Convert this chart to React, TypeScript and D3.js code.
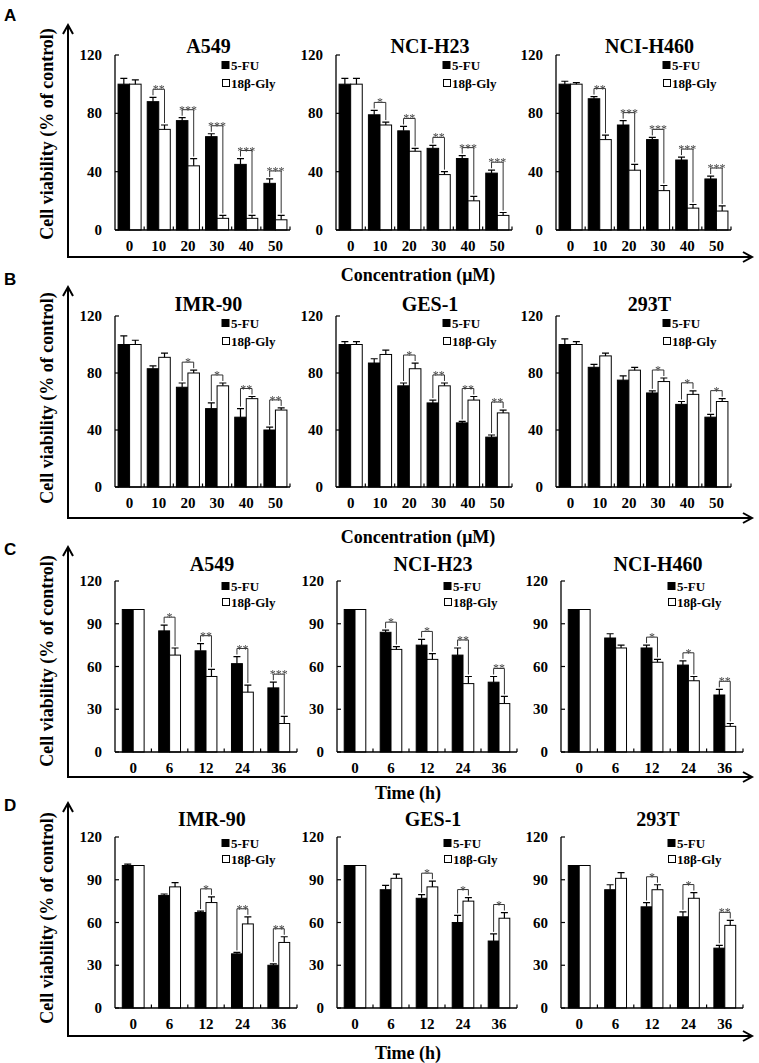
import React from "react";
import * as d3 from "d3";

const concCategories = ["0", "10", "20", "30", "40", "50"];
const timeCategories = ["0", "6", "12", "24", "36"];
const concTicks = [0, 40, 80, 120];
const timeTicks = [0, 30, 60, 90, 120];
const seriesNames = ["5-FU", "18β-Gly"];
const panelLetters = ["A", "B", "C", "D"];
const xAxisTitles = ["Concentration (μM)", "Concentration (μM)", "Time (h)", "Time (h)"];
const yAxisTitle = "Cell viability (% of control)";
const cancerLines = ["A549", "NCI-H23", "NCI-H460"];
const normalLines = ["IMR-90", "GES-1", "293T"];

// Row A (concentration, cancer lines)
const a_A549_fu = [100, 88, 75, 64, 45, 32];
const a_A549_fuErr = [4, 3, 2, 2, 4, 3];
const a_A549_gly = [100, 69, 44, 8, 8, 7];
const a_A549_glyErr = [3, 3, 5, 2, 2, 3];
const a_A549_sig = ["", "**", "***", "***", "***", "***"];

const a_H23_fu = [100, 79, 68, 56, 49, 39];
const a_H23_fuErr = [4, 3, 3, 2, 2, 2];
const a_H23_gly = [100, 72, 54, 38, 20, 10];
const a_H23_glyErr = [4, 2, 2, 2, 3, 2];
const a_H23_sig = ["", "*", "**", "**", "***", "***"];

const a_H460_fu = [100, 90, 72, 62, 48, 35];
const a_H460_fuErr = [2, 1.5, 3, 1.5, 2, 2];
const a_H460_gly = [100, 62, 41, 27, 15, 13];
const a_H460_glyErr = [1, 3, 4, 3.5, 2.5, 3.5];
const a_H460_sig = ["", "**", "***", "***", "***", "***"];

// Row B (concentration, normal lines)
const b_IMR90_fu = [100, 83, 70, 55, 49, 40];
const b_IMR90_fuErr = [6, 2, 3, 4, 6, 2];
const b_IMR90_gly = [100, 91, 80, 71, 62, 54];
const b_IMR90_glyErr = [3, 3, 2, 2, 1.5, 1.5];
const b_IMR90_sig = ["", "", "*", "*", "**", "**"];

const b_GES1_fu = [100, 87, 71, 59, 45, 35];
const b_GES1_fuErr = [2, 3, 2, 2, 1, 1.5];
const b_GES1_gly = [100, 93, 83, 71, 61, 52];
const b_GES1_glyErr = [2, 3, 4, 2, 2.5, 2];
const b_GES1_sig = ["", "", "*", "**", "**", "**"];

const b_293T_fu = [100, 84, 75, 66, 58, 49];
const b_293T_fuErr = [4, 2, 3, 1.5, 2, 2];
const b_293T_gly = [100, 92, 82, 74, 65, 60];
const b_293T_glyErr = [2, 2, 2, 2.5, 2.5, 2];
const b_293T_sig = ["", "", "", "*", "*", "*"];

// Row C (time, cancer lines)
const c_A549_fu = [100, 85, 71, 62, 45];
const c_A549_fuErr = [0, 4, 5, 5, 4];
const c_A549_gly = [100, 68, 53, 42, 20];
const c_A549_glyErr = [0, 5, 5, 5, 5];
const c_A549_sig = ["", "*", "**", "**", "***"];

const c_H23_fu = [100, 84, 75, 68, 49];
const c_H23_fuErr = [0, 1.5, 4, 5, 4];
const c_H23_gly = [100, 72, 65, 48, 34];
const c_H23_glyErr = [0, 2, 4, 5, 5];
const c_H23_sig = ["", "*", "*", "**", "**"];

const c_H460_fu = [100, 80, 73, 61, 40];
const c_H460_fuErr = [0, 3, 2, 3, 4];
const c_H460_gly = [100, 73, 63, 50, 18];
const c_H460_glyErr = [0, 2, 2, 3, 2];
const c_H460_sig = ["", "", "*", "*", "**"];

// Row D (time, normal lines)
const d_IMR90_fu = [100, 79, 67, 38, 30];
const d_IMR90_fuErr = [1, 1, 1, 1, 1];
const d_IMR90_gly = [100, 85, 74, 59, 46];
const d_IMR90_glyErr = [0, 3, 4, 5, 4];
const d_IMR90_sig = ["", "", "*", "**", "**"];

const d_GES1_fu = [100, 83, 77, 60, 47];
const d_GES1_fuErr = [0, 3, 2.5, 5, 5];
const d_GES1_gly = [100, 91, 85, 75, 63];
const d_GES1_glyErr = [0, 3, 4, 2.5, 4];
const d_GES1_sig = ["", "", "*", "*", "*"];

const d_293T_fu = [100, 83, 71, 64, 42];
const d_293T_fuErr = [0, 3.5, 3, 3.5, 2];
const d_293T_gly = [100, 91, 83, 77, 58];
const d_293T_glyErr = [0, 4, 3.5, 4, 3.5];
const d_293T_sig = ["", "", "*", "*", "**"];

const rowData = [
  [
    [a_A549_fu, a_A549_fuErr, a_A549_gly, a_A549_glyErr, a_A549_sig],
    [a_H23_fu, a_H23_fuErr, a_H23_gly, a_H23_glyErr, a_H23_sig],
    [a_H460_fu, a_H460_fuErr, a_H460_gly, a_H460_glyErr, a_H460_sig],
  ],
  [
    [b_IMR90_fu, b_IMR90_fuErr, b_IMR90_gly, b_IMR90_glyErr, b_IMR90_sig],
    [b_GES1_fu, b_GES1_fuErr, b_GES1_gly, b_GES1_glyErr, b_GES1_sig],
    [b_293T_fu, b_293T_fuErr, b_293T_gly, b_293T_glyErr, b_293T_sig],
  ],
  [
    [c_A549_fu, c_A549_fuErr, c_A549_gly, c_A549_glyErr, c_A549_sig],
    [c_H23_fu, c_H23_fuErr, c_H23_gly, c_H23_glyErr, c_H23_sig],
    [c_H460_fu, c_H460_fuErr, c_H460_gly, c_H460_glyErr, c_H460_sig],
  ],
  [
    [d_IMR90_fu, d_IMR90_fuErr, d_IMR90_gly, d_IMR90_glyErr, d_IMR90_sig],
    [d_GES1_fu, d_GES1_fuErr, d_GES1_gly, d_GES1_glyErr, d_GES1_sig],
    [d_293T_fu, d_293T_fuErr, d_293T_gly, d_293T_glyErr, d_293T_sig],
  ],
];

const SERIF = "'Liberation Serif', 'Times New Roman', Times, serif";
const SANS = "'Liberation Sans', Arial, Helvetica, sans-serif";

const colsAB = [[115, 290], [336, 512], [556, 731]];
const colsCD = [[115, 297], [337, 517], [561, 743]];

const layout = [
  { y120: 55, y0: 230, lineY: 257, xTitleY: 275, titleY: 46, letterY: 15, arrowTop: 25, leg: [65, 83], ylabY: 134, cols: colsAB, pad: 0.21 },
  { y120: 316, y0: 487, lineY: 518, xTitleY: 537, titleY: 304, letterY: 279, arrowTop: 287, leg: [323, 341], ylabY: 398, cols: colsAB, pad: 0.21 },
  { y120: 581, y0: 752, lineY: 777, xTitleY: 793, titleY: 564, letterY: 549, arrowTop: 547, leg: [586, 602], ylabY: 661, cols: colsCD, pad: 0.4 },
  { y120: 837, y0: 1008, lineY: 1036, xTitleY: 1053, titleY: 819, letterY: 805, arrowTop: 803, leg: [843, 859], ylabY: 918, cols: colsCD, pad: 0.4 },
];

function Subplot(props: any) {
  const { x0, x1, L, categories, ticks, data, title } = props;
  const [fu, fuErr, gly, glyErr, sig] = data;
  const x = d3.scaleBand().domain(categories).range([x0, x1]).paddingInner(L.pad).paddingOuter(L.pad / 2);
  const inner = d3.scaleBand().domain(["fu", "gly"]).range([0, x.bandwidth()]);
  const y = d3.scaleLinear().domain([0, 120]).range([L.y0, L.y120]);
  const step = x.step();
  const bw = inner.bandwidth();
  const stroke = "#000";
  const bracketColor = "#333";
  return (
    <g>
      <text x={(x0 + x1) / 2 + 6} y={L.titleY} textAnchor="middle" dominantBaseline="central"
        fontFamily={SERIF} fontWeight="bold" fontSize={20}>{title}</text>
      <rect x={x0 + 107} y={L.leg[0] - 3.5} width={7} height={7} fill="#000" stroke="#000" strokeWidth={1} />
      <text x={x0 + 116} y={L.leg[0]} dominantBaseline="central" fontFamily={SERIF} fontWeight="bold" fontSize={13}>{seriesNames[0]}</text>
      <rect x={x0 + 107.5} y={L.leg[1] - 3.5} width={7} height={7} fill="#fff" stroke="#000" strokeWidth={1} />
      <text x={x0 + 116} y={L.leg[1]} dominantBaseline="central" fontFamily={SERIF} fontWeight="bold" fontSize={13}>{seriesNames[1]}</text>
      {categories.map((c: string, i: number) => {
        const bx = (x(c) as number) + (inner("fu") as number);
        const wx = (x(c) as number) + (inner("gly") as number);
        return (
          <g key={"b" + i}>
            <rect x={bx} y={y(fu[i])} width={bw} height={L.y0 - y(fu[i])} fill="#000" stroke={stroke} strokeWidth={1} />
            <rect x={wx} y={y(gly[i])} width={bw} height={L.y0 - y(gly[i])} fill="#fff" stroke={stroke} strokeWidth={1} />
          </g>
        );
      })}
      {categories.map((c: string, i: number) => {
        const bc = (x(c) as number) + (inner("fu") as number) + bw / 2;
        const wc = (x(c) as number) + (inner("gly") as number) + bw / 2;
        const items: any[] = [];
        if (fuErr[i] > 0) {
          const t = y(fu[i] + fuErr[i]);
          items.push(<path key="e1" d={`M${bc},${y(fu[i])}V${t}M${bc - 3.5},${t}H${bc + 3.5}`} stroke="#000" strokeWidth={1.2} fill="none" />);
        }
        if (glyErr[i] > 0) {
          const t = y(gly[i] + glyErr[i]);
          items.push(<path key="e2" d={`M${wc},${y(gly[i])}V${t}M${wc - 3.5},${t}H${wc + 3.5}`} stroke="#000" strokeWidth={1.2} fill="none" />);
        }
        return <g key={"e" + i}>{items}</g>;
      })}
      <g filter="url(#gray)">
        {categories.map((c: string, i: number) => {
          if (!sig[i]) return null;
          const bc = (x(c) as number) + (inner("fu") as number) + bw / 2;
          const wc = (x(c) as number) + (inner("gly") as number) + bw / 2;
          const tb = y(fu[i] + fuErr[i]) - 2;
          const tw = y(gly[i] + glyErr[i]) - 2;
          const h = Math.min(tb, tw) - 6;
          return (
            <g key={"s" + i}>
              <path d={`M${bc},${tb}V${h}H${wc}V${tw}`} stroke={bracketColor} strokeWidth={1} fill="none" />
              <text x={(bc + wc) / 2} y={h + 4} textAnchor="middle" fontFamily={SERIF} fontSize={12} fill="#444">{sig[i]}</text>
            </g>
          );
        })}
      </g>
      <line x1={x0} x2={x0} y1={L.y120} y2={L.y0} stroke="#000" strokeWidth={1.3} />
      <line x1={x0} x2={x1} y1={L.y0} y2={L.y0} stroke="#000" strokeWidth={1.3} />
      {ticks.map((t: number) => (
        <g key={"yt" + t}>
          <line x1={x0} x2={x0 + 4} y1={y(t)} y2={y(t)} stroke="#000" strokeWidth={1.2} />
          <text x={x0 - 13} y={y(t)} textAnchor="end" dominantBaseline="central" fontFamily={SERIF} fontWeight="bold" fontSize={15}>{t}</text>
        </g>
      ))}
      {categories.map((c: string, i: number) => (
        <g key={"xt" + i}>
          <line x1={x0 + (i + 1) * step} x2={x0 + (i + 1) * step} y1={L.y0} y2={L.y0 - 3.5} stroke="#000" strokeWidth={1.2} />
          <text x={(x(c) as number) + x.bandwidth() / 2} y={L.y0 + 16} textAnchor="middle" dominantBaseline="central" fontFamily={SERIF} fontWeight="bold" fontSize={15}>{c}</text>
        </g>
      ))}
    </g>
  );
}

export default function App() {
  return (
    <svg width={759} height={1063} style={{ position: "absolute", left: 0, top: 0, background: "#fff" }}>
      <defs>
        <filter id="gray" x="-20%" y="-20%" width="140%" height="140%">
          <feColorMatrix type="saturate" values="0" />
        </filter>
      </defs>
      <rect x={0} y={0} width={759} height={1063} fill="#fff" />
      {layout.map((L, r) => {
        const isTime = r >= 2;
        const categories = isTime ? timeCategories : concCategories;
        const ticks = isTime ? timeTicks : concTicks;
        const names = r % 2 === 0 ? cancerLines : normalLines;
        return (
          <g key={"row" + r}>
            <text x={4} y={L.letterY} dominantBaseline="central" fontFamily={SANS} fontWeight="bold" fontSize={17}>{panelLetters[r]}</text>
            <path d={`M68,${L.arrowTop}V${L.lineY}H752`} stroke="#000" strokeWidth={2} fill="none" />
            <path d={`M63,${L.arrowTop + 9}L68,${L.arrowTop}L73,${L.arrowTop + 9}`} stroke="#000" strokeWidth={2} fill="none" />
            <path d={`M743,${L.lineY - 5}L752,${L.lineY}L743,${L.lineY + 5}`} stroke="#000" strokeWidth={2} fill="none" />
            <text transform={`translate(47,${L.ylabY}) rotate(-90)`} textAnchor="middle" dominantBaseline="central"
              fontFamily={SERIF} fontWeight="bold" fontSize={18}>{yAxisTitle}</text>
            <text x={isTime ? 408 : 418} y={L.xTitleY} textAnchor="middle" dominantBaseline="central"
              fontFamily={SERIF} fontWeight="bold" fontSize={18}>{xAxisTitles[r]}</text>
            {L.cols.map((col, c) => (
              <Subplot key={"sp" + c} x0={col[0]} x1={col[1]} L={L} categories={categories} ticks={ticks}
                data={rowData[r][c]} title={names[c]} />
            ))}
          </g>
        );
      })}
    </svg>
  );
}
